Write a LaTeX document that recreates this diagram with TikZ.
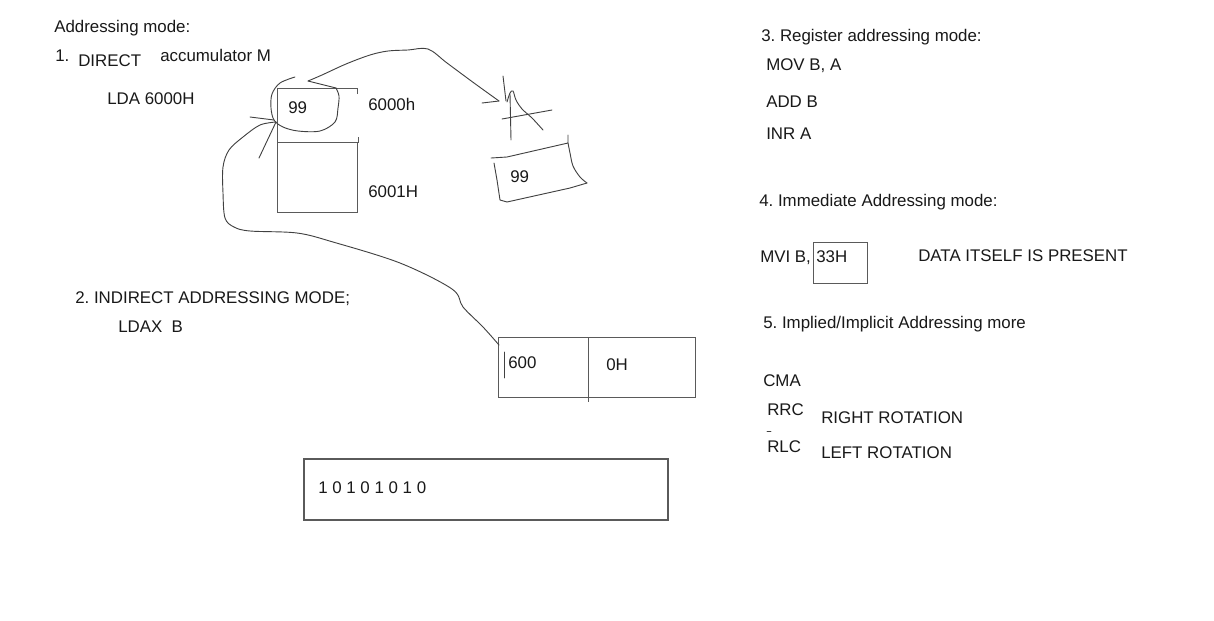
\documentclass[tikz,border=0pt]{standalone}
\usepackage{fontspec}
\setmainfont{Liberation Sans}
\usetikzlibrary{positioning, calc}
\definecolor{inktext}{RGB}{25,25,25}
\definecolor{penline}{RGB}{65,65,65}
\definecolor{boxline}{RGB}{90,90,90}
\frenchspacing

\begin{document}
\begin{tikzpicture}[
  x=0.025cm, y=-0.025cm,
  font=\fontsize{12}{14}\selectfont,
  txt/.style={anchor=base west, inner sep=0pt, text=inktext},
  cell/.style={draw=boxline, line width=0.7pt},
  pen/.style={draw=penline, line width=0.65pt, line cap=round, line join=round},
  hand/.style={pen, smooth, tension=0.55},
]
\useasboundingbox[fill=white] (0,0) rectangle (1214,620);

% left column: direct and indirect modes
\node[txt] (title) at (54,32) {Addressing mode:};
\node[txt] (num1) at (55,61) {1.};
\node[txt] (direct) at (78,66) {DIRECT};
\node[txt] (accu) at (160,61) {accumulator M};
\node[txt] (lda) at (107,104) {LDA 6000H};
\node[txt] (num2) at (75,303) {2. INDIRECT ADDRESSING MODE;};
\node[txt] (ldax) at (118,332) {LDAX\ \ B};

% memory cells 6000h / 6001H
\draw[cell] (357,94) -- (357,88) -- (277,88) -- (277,212) -- (357,212) -- (357,142);
\draw[cell] (277,142) -- (358,142) -- (358,137);
\node[txt] (val) at (288,113) {99};
\node[txt] (adrA) at (368,110) {6000h};
\node[txt] (adrB) at (368,197) {6001H};

% copied value
\draw[pen] (491,158) -- (507,157) -- (568,143) -- (568,135);
\draw[pen] plot[hand] coordinates {(568,143) (570,153) (573,166) (580,177) (587,183)};
\draw[pen] (587,183) -- (570,188) -- (507,202) -- (500,200) -- (497,180) -- (494,163);
\node[txt] (copy) at (510,182) {99};

% pair register
\draw[cell] (498,337) rectangle (695,397);
\draw[cell] (588,337) -- (588,402);
\node[txt] (hi) at (508,368) {600};
\node[txt] (lo) at (606,370) {0H};

% accumulator contents
\draw[cell, line width=0.9pt] (304,459) rectangle (668,520);
\node[txt] (bits) at (318,493) {1 0 1 0 1 0 1 0};

% pen strokes
\coordinate (grab) at (276,122);
\coordinate (lift) at (308,81);
\coordinate (tip) at (499,101);
\draw[pen] (lift) -- (336,88);
\draw[pen] plot[hand] coordinates {(336,88) (339,96) (338,108) (335,122) (320,131) (298,131) (283,127) (274,120) (271,108) (272,94) (280,83) (295,77)};
\draw[pen] plot[hand] coordinates {(lift) (322,75) (346,64) (370,55) (388,51) (408,50) (428,49) (447,63) (474,83) (tip)};
\draw[pen] (482,103) -- (tip);
\draw[pen] (503,76) -- (506,101);
\draw[pen] plot[hand] coordinates {(507,102) (510,93) (513,91) (516,100) (522,109) (532,118) (543,130)};
\draw[pen] (510,94) -- (511,140);
\draw[pen] (502,119) -- (552,110);
\draw[pen] (250,117) -- (274,120);
\draw[pen] (grab) -- (259,158);
\draw[pen] plot[hand] coordinates {(grab) (260,125) (243,137) (229,150) (223,167) (223,193) (225,218) (234,227) (250,231) (297,233) (333,242) (400,263) (452,289) (463,307) (483,327) (499,345)};
\draw[pen] (504,352) -- (504,378);

% right column: register, immediate, implied
\node[txt] (num3) at (761,41) {3. Register addressing mode:};
\node[txt] (mov) at (766,70) {MOV B, A};
\node[txt] (add) at (766,107) {ADD B};
\node[txt] (inr) at (766,139) {INR A};
\node[txt] (num4) at (759,206) {4. Immediate Addressing mode:};
\node[txt] (mvi) at (760,262) {MVI B,};
\draw[cell] (813,242) rectangle (867,283);
\node[txt] (imm) at (816,262) {33H};
\node[txt] (note) at (918,261) {DATA ITSELF IS PRESENT};
\node[txt] (num5) at (763,328) {5. Implied/Implicit Addressing more};
\node[txt] (cma) at (763,386) {CMA};
\node[txt] (rrc) at (767,415) {RRC};
\node[txt] (rrcnote) at (821,423) {RIGHT ROTATION};
\draw[pen] (767,431) -- (771,431);
\node[txt] (rlc) at (767,452) {RLC};
\node[txt] (rlcnote) at (821,458) {LEFT ROTATION};
\end{tikzpicture}
\end{document}
